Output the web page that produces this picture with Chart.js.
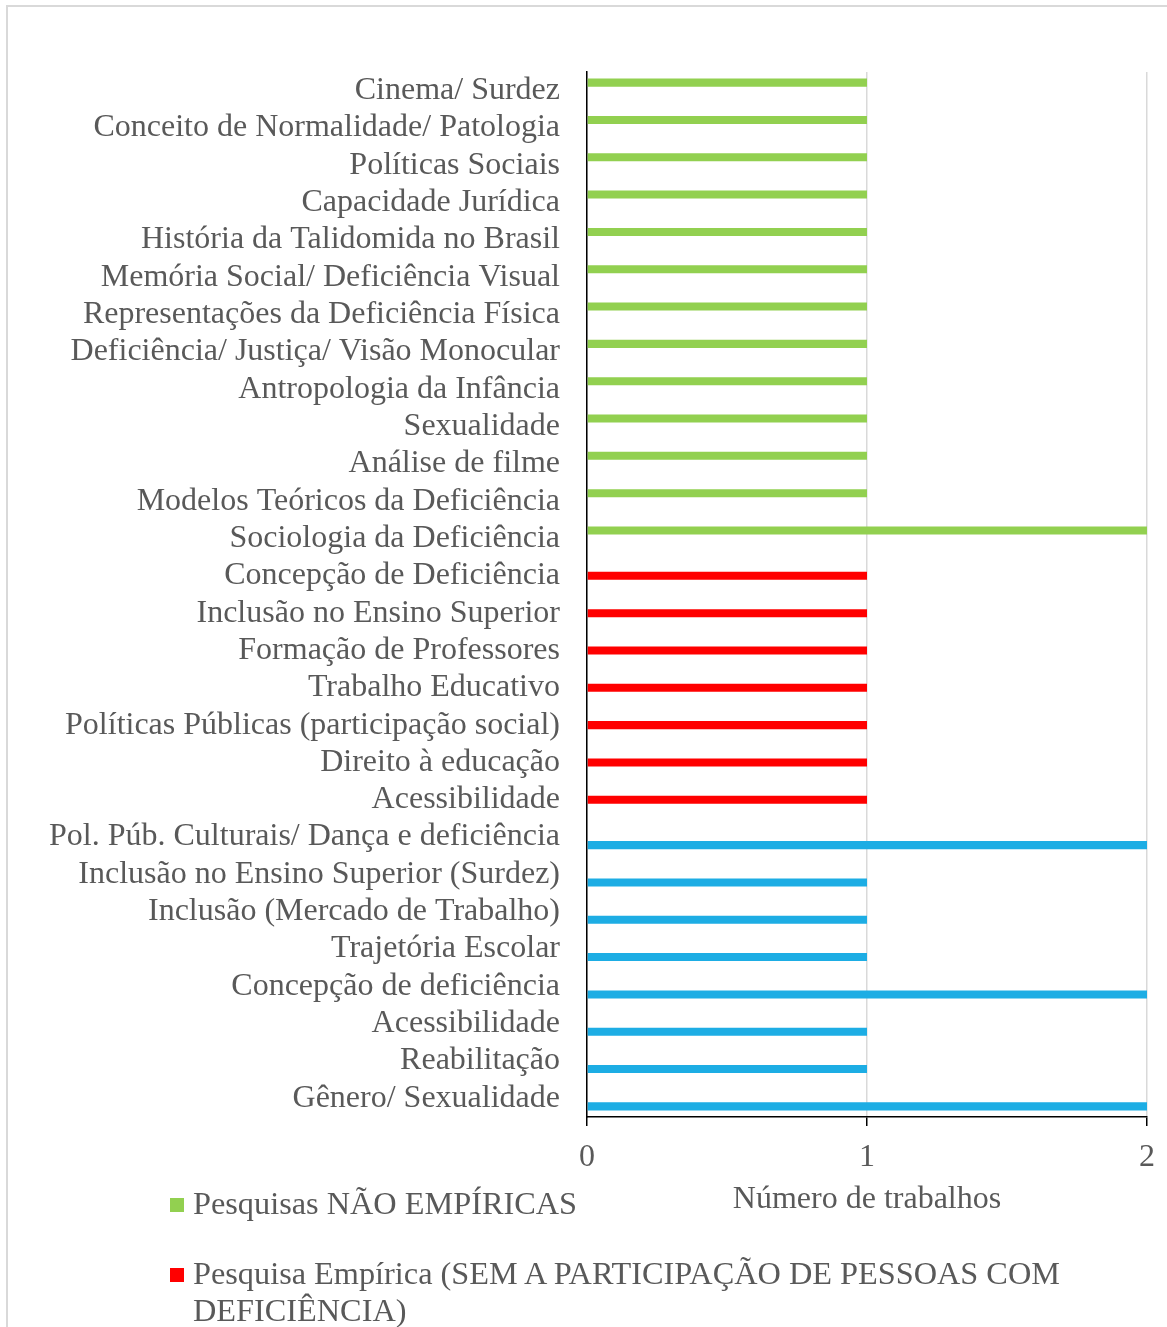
<!DOCTYPE html>
<html>
<head>
<meta charset="utf-8">
<script src="https://cdn.jsdelivr.net/npm/chart.js@4/dist/chart.umd.min.js"></script>
<style>
  html, body { margin: 0; padding: 0; background: #fff; overflow: hidden; }
  body { width: 1167px; height: 1327px; position: relative; }
  #frame { position: absolute; left: 6px; top: 5px; width: 1200px; height: 1400px;
           border-left: 2px solid #d9d9d9; border-top: 2px solid #d9d9d9; box-sizing: border-box; }
  #wrap { position: absolute; left: 0; top: 0; width: 1167px; height: 1327px; }
  #legend { position: absolute; left: 170px; top: 1185px; width: 950px;
            font-family: "Liberation Serif", "Times New Roman", serif; font-size: 32.3px; color: #595959; }
  .item { position: relative; padding-left: 23px; line-height: 37px; margin-bottom: 33px; }
  .sw { position: absolute; left: 0; top: 13px; width: 14px; height: 14px; }
</style>
</head>
<body>
<div id="frame"></div>
<div id="wrap"><canvas id="c" width="1167" height="1327"></canvas></div>
<div id="legend"></div>
<script>
const categories = [
  "Cinema/ Surdez",
  "Conceito de Normalidade/ Patologia",
  "Políticas Sociais",
  "Capacidade Jurídica",
  "História da Talidomida no Brasil",
  "Memória Social/ Deficiência Visual",
  "Representações da Deficiência Física",
  "Deficiência/ Justiça/ Visão Monocular",
  "Antropologia da Infância",
  "Sexualidade",
  "Análise de filme",
  "Modelos Teóricos da Deficiência",
  "Sociologia da Deficiência",
  "Concepção de Deficiência",
  "Inclusão no Ensino Superior",
  "Formação de Professores",
  "Trabalho Educativo",
  "Políticas Públicas (participação social)",
  "Direito à educação",
  "Acessibilidade",
  "Pol. Púb. Culturais/ Dança e deficiência",
  "Inclusão no Ensino Superior (Surdez)",
  "Inclusão (Mercado de Trabalho)",
  "Trajetória Escolar",
  "Concepção de deficiência",
  "Acessibilidade",
  "Reabilitação",
  "Gênero/ Sexualidade"
];
const seriesNames = [
  "Pesquisas NÃO EMPÍRICAS",
  "Pesquisa Empírica (SEM A PARTICIPAÇÃO DE PESSOAS COM DEFICIÊNCIA)",
  "Pesquisa Empírica (COM A PARTICIPAÇÃO DE PESSOAS COM DEFICIÊNCIA)"
];
const naoEmpiricas = [1,1,1,1,1,1,1,1,1,1,1,1,2, null,null,null,null,null,null,null, null,null,null,null,null,null,null,null];
const semParticipacao = [null,null,null,null,null,null,null,null,null,null,null,null,null, 1,1,1,1,1,1,1, null,null,null,null,null,null,null,null];
const comParticipacao = [null,null,null,null,null,null,null,null,null,null,null,null,null, null,null,null,null,null,null,null, 2,1,1,1,2,1,1,2];
const xTicks = [0, 1, 2];
const axisTitle = "Número de trabalhos";
const colors = ["#92D050", "#FF0000", "#1DADE4"];

const FONT = "'Liberation Serif', 'Times New Roman', serif";
const TEXT = "#595959";

const seriesData = [naoEmpiricas, semParticipacao, comParticipacao];
const datasets = seriesData.map((d, i) => ({
  label: seriesNames[i],
  data: d,
  backgroundColor: colors[i],
  borderWidth: 0,
  categoryPercentage: 0.645,
  barPercentage: 1.0
}));

new Chart(document.getElementById('c'), {
  type: 'bar',
  data: { labels: categories, datasets },
  options: {
    indexAxis: 'y',
    responsive: false,
    animation: false,
    devicePixelRatio: 1,
    layout: { padding: { left: 0, right: 20, top: 72, bottom: 100 } },
    plugins: { legend: { display: false }, tooltip: { enabled: false } },
    scales: {
      x: {
        type: 'linear',
        min: xTicks[0],
        max: xTicks[xTicks.length - 1],
        afterBuildTicks: s => { s.ticks = xTicks.map(v => ({ value: v })); },
        afterFit: s => { s.height = 110; },
        grid: { color: '#d9d9d9', lineWidth: 1.5, tickColor: '#000', tickLength: 9, drawTicks: true },
        border: { color: '#000', width: 1.5 },
        ticks: { font: { family: FONT, size: 32 }, color: TEXT, padding: 12, maxRotation: 0 },
        title: { display: true, text: axisTitle, font: { family: FONT, size: 32 }, color: TEXT, padding: { top: 0, bottom: 8 } }
      },
      y: {
        afterFit: s => { s.width = 587; },
        grid: { display: false, drawTicks: false },
        border: { color: '#000', width: 1.5 },
        ticks: { font: { family: FONT, size: 32 }, color: TEXT, padding: 27, autoSkip: false }
      }
    }
  }
});

const leg = document.getElementById('legend');
seriesNames.forEach((n, i) => {
  const it = document.createElement('div');
  it.className = 'item';
  const sw = document.createElement('span');
  sw.className = 'sw';
  sw.style.background = colors[i];
  it.appendChild(sw);
  it.appendChild(document.createTextNode(n));
  leg.appendChild(it);
});
</script>
</body>
</html>
